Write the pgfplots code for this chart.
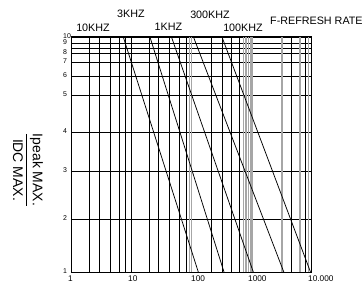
\documentclass[border=0pt]{standalone}
\usepackage{pgfplots}
\pgfplotsset{compat=1.18}
\usepackage{fontspec}
\setmainfont{Liberation Sans}
\begin{document}
\begin{tikzpicture}[x=1bp,y=1bp]
\useasboundingbox (0,0) rectangle (363,283);
\begin{axis}[
  at={(71bp,11bp)}, anchor=south west,
  scale only axis, width=240bp, height=235bp,
  xmode=log, xmin=1, xmax=10000,
  ymin=0, ymax=235,
  axis line style={black, line width=1pt},
  xtick={1,10,100,1000,10000},
  xticklabels={1,10,\hspace*{3bp}100,1000,10.000},
  minor xtick={2,3,4.5,6.4,8.2,20,29,43,64,85,221,332,464,638,4770,7943},
  extra x ticks={95,102,755,826,902,1000,1060,3286,6556,9080},
  extra x tick labels={},
  extra x tick style={grid=major, major grid style={gray!70, line width=1.2pt}, major tick length=0pt},
  ytick={0,53,101,140,177,196,210,219,229,235},
  yticklabels={1,2,3,4,5,6,7,8,9,10},
  minor ytick={224},
  grid=both,
  major grid style={black, line width=0.95pt},
  minor grid style={black, line width=0.95pt},
  major tick length=0pt, minor tick length=0pt,
  xticklabel style={anchor=north west, inner sep=0pt, xshift=-3bp, yshift=-4bp, font=\fontsize{8.3}{9}\selectfont},
  yticklabel style={anchor=west, inner sep=0pt, xshift=-8bp, yshift=1bp, font=\fontsize{7}{7}\selectfont},
  clip=true,
]
\addplot[black, line width=0.75pt] coordinates {(7.44,235) (132.3,0)};
\addplot[black, line width=0.75pt] coordinates {(20.7,235) (354.8,0)};
\addplot[black, line width=0.75pt] coordinates {(47.3,235) (1092,0)};
\addplot[black, line width=0.75pt] coordinates {(110,235) (3521,0)};
\addplot[black, line width=0.75pt] coordinates {(328.5,235) (9810,0)};
\end{axis}
\begin{scope}[every node/.style={inner sep=0pt, font=\fontsize{10.8}{12}\selectfont}]
\node at (131,269.5) {3KHZ};
\node at (210,268) {300KHZ};
\node at (93,255) {10KHZ};
\node at (168.5,256) {1KHZ};
\node at (243,255.5) {100KHZ};
\node[anchor=west] at (270,262) {F-REFRESH RATE};
\end{scope}
\node[rotate=-90, inner sep=0pt, font=\fontsize{14}{15}\selectfont] at (28,113) {$\displaystyle\frac{\mbox{Ipeak MAX.}}{\mbox{IDC MAX.}}$};
\end{tikzpicture}
\end{document}
